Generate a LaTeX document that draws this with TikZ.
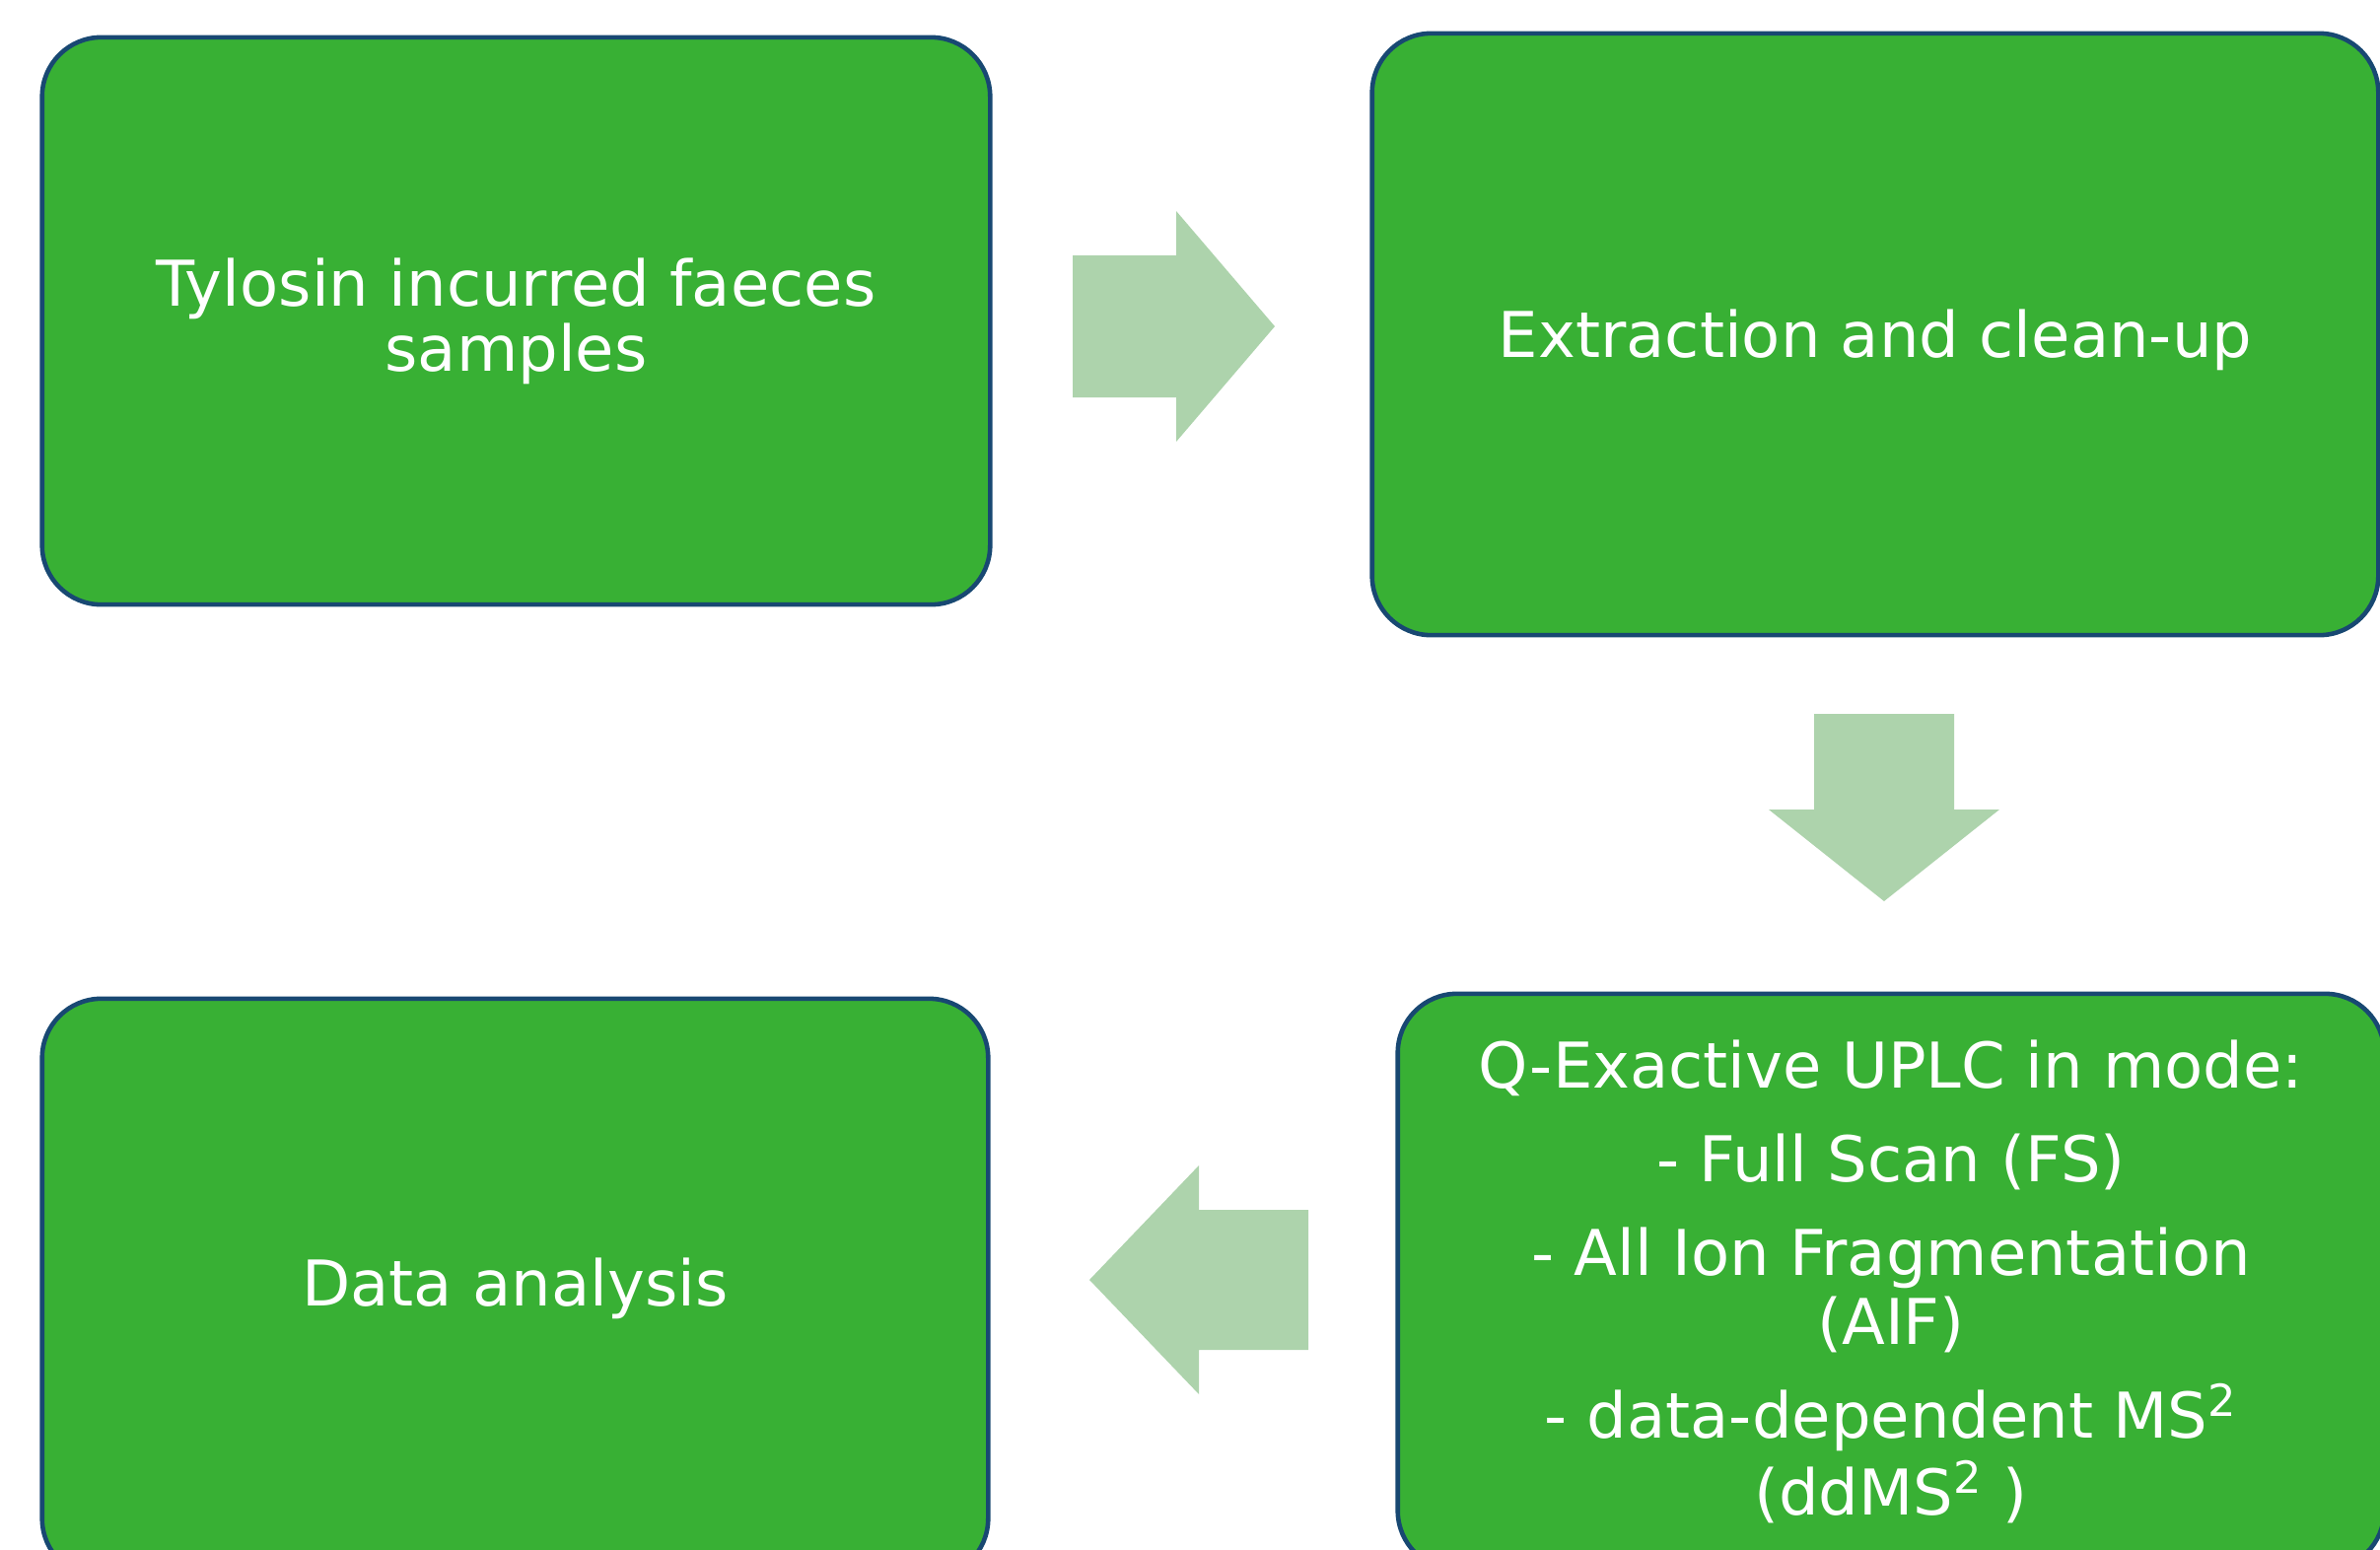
\documentclass[tikz,border=0pt]{standalone}
\usepackage{fontspec}
\setmainfont{DejaVu Sans}
\usepackage{tikz}
\usetikzlibrary{positioning,calc}
\definecolor{boxgreen}{RGB}{56,176,52}
\definecolor{boxline}{RGB}{24,72,114}
\definecolor{arrowgreen}{RGB}{173,211,172}
\tikzset{box/.style={draw=boxline,line width=1.3pt,fill=boxgreen,rounded corners=6mm,text=white,align=center,font=\fontsize{18.2}{18.2}\selectfont,inner sep=0pt},
	blk/.style={fill=arrowgreen}}

\begin{document}
\begin{tikzpicture}[x=.01cm,y=-.01cm]
		\useasboundingbox (0,0) rectangle (2414,1572);
		\clip (0,0) rectangle (2414,1572);
		
		\node[box,minimum width=9.61cm,minimum height=5.75cm] (samples) at (523.5,325.5) {Tylosin incurred faeces\\[0.6pt]samples};
		\node[box,minimum width=10.2cm,minimum height=6.1cm,text height=6.1mm] (extract) at (1902,339) {Extraction and clean-up};
		\node[box,minimum width=10cm,minimum height=5.84cm] (uplc) at (1918,1300) {Q-Exactive UPLC in mode:\\[8.8pt]
			- Full Scan (FS)\\[8.8pt]
			- All Ion Fragmentation\\[1.7pt] (AIF)\\[8.8pt]
			- data-dependent MS\textsuperscript{2}\\[1.7pt] (ddMS\textsuperscript{2} )};
		\node[box,minimum width=9.59cm,minimum height=5.87cm] (analysis) at (522.5,1306.5) {Data analysis};
		
		\coordinate (rtip) at (1293,331);
		\coordinate (dtip) at (1911,914);
		\coordinate (ltip) at (1105,1298);
		
		\fill[blk] (rtip) -- ++(-100,-117) -- ++(0,45) -- ++(-105,0) -- ++(0,144) -- ++(105,0) -- ++(0,45) -- cycle;
		\fill[blk] (dtip) -- ++(-117,-93) -- ++(46,0) -- ++(0,-97) -- ++(142,0) -- ++(0,97) -- ++(46,0) -- cycle;
		\fill[blk] (ltip) -- ++(111,-116) -- ++(0,45) -- ++(111,0) -- ++(0,142) -- ++(-111,0) -- ++(0,45) -- cycle;
	\end{tikzpicture}
\end{document}
